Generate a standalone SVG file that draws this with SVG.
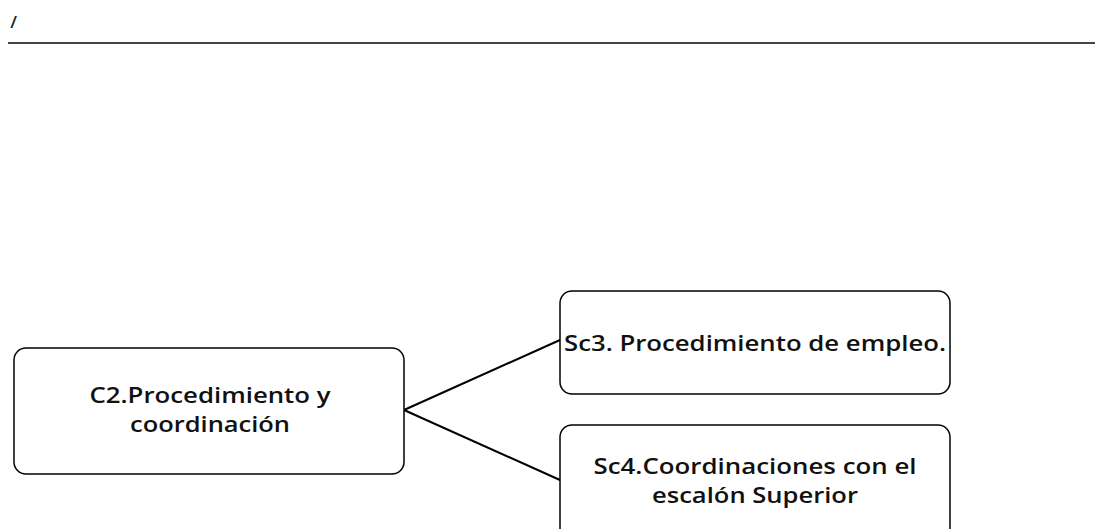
<svg xmlns="http://www.w3.org/2000/svg" width="1095" height="529" viewBox="0 0 1095 529">
<style>
.box{fill:#fff;stroke:#000;stroke-width:1.5}
.t{font-family:"Open Sans","Liberation Sans",sans-serif;font-weight:600;font-size:21px;fill:#111;text-anchor:middle}
.c{stroke:#000;stroke-width:2;fill:none}
</style>
<rect width="1095" height="529" fill="#fff"/>
<text x="11" y="28" font-family="Liberation Sans, sans-serif" font-size="16" font-weight="bold" font-style="italic" fill="#222">/</text>
<line x1="8" y1="43" x2="1095" y2="43" stroke="#444" stroke-width="2"/>
<g id="connectors">
<line class="c" x1="404" y1="410" x2="560" y2="340"/>
<line class="c" x1="404" y1="410" x2="560" y2="480"/>
</g>
<g id="c2">
<rect class="box" x="14" y="348" width="390" height="126" rx="12"/>
<text class="t" x="210" y="403" textLength="241" lengthAdjust="spacingAndGlyphs">C2.Procedimiento y</text>
<text class="t" x="210" y="432" textLength="160" lengthAdjust="spacingAndGlyphs">coordinación</text>
</g>
<g id="sc3">
<rect class="box" x="560" y="291" width="390" height="103" rx="12"/>
<text class="t" x="755" y="351" textLength="382" lengthAdjust="spacingAndGlyphs">Sc3. Procedimiento de empleo.</text>
</g>
<g id="sc4">
<rect class="box" x="560" y="425" width="390" height="120" rx="12"/>
<text class="t" x="755" y="474" textLength="323" lengthAdjust="spacingAndGlyphs">Sc4.Coordinaciones con el</text>
<text class="t" x="755" y="503" textLength="206" lengthAdjust="spacingAndGlyphs">escalón Superior</text>
</g>
</svg>
